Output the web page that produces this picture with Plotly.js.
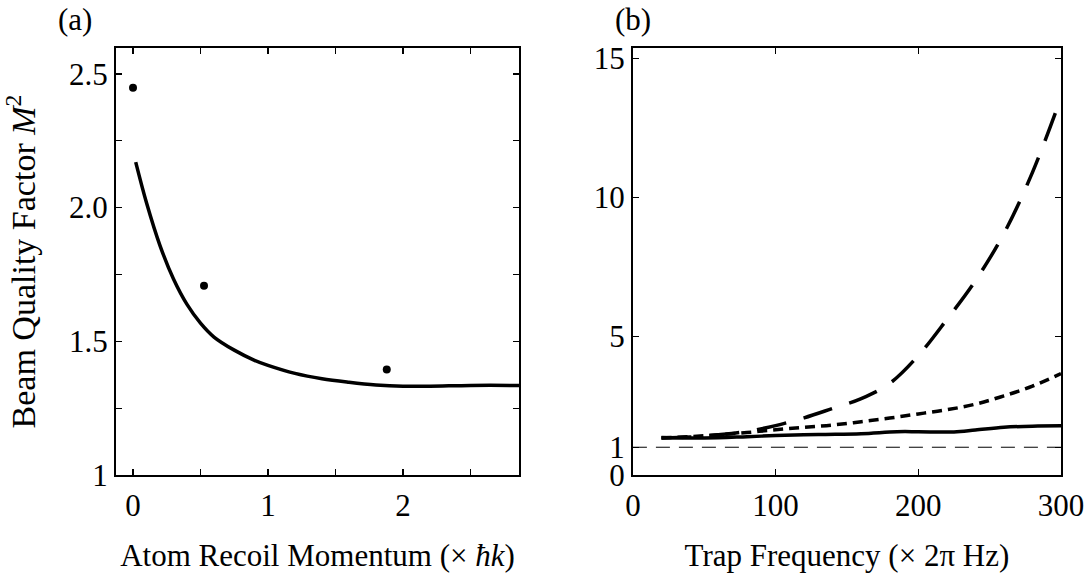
<!DOCTYPE html>
<html>
<head>
<meta charset="utf-8">
<script src="https://cdn.plot.ly/plotly-3.0.1.min.js"></script>
<style>html,body{margin:0;padding:0;background:#fff;}#chart{width:1085px;height:581px;}</style>
</head>
<body>
<div id="chart"></div>
<script>
// Panel (a): measured points
const momentumPts = [0, 0.526, 1.88];
const m2Pts = [2.448, 1.708, 1.395];
// Panel (a): theory curve
const momentumCurve = [0.02, 0.1, 0.2, 0.3, 0.4, 0.5, 0.6, 0.75, 0.9, 1.0, 1.2, 1.4, 1.6, 1.8, 2.0, 2.2, 2.5, 2.86];
const m2Curve = [2.17, 2.018, 1.858, 1.733, 1.638, 1.568, 1.516, 1.467, 1.429, 1.41, 1.38, 1.36, 1.347, 1.337, 1.332, 1.332, 1.335, 1.335];

// Panel (b): trap frequency curves
const freqLong = [20, 40, 60, 80, 100, 120, 140, 160, 180, 200, 220, 240, 260, 280, 300];
const m2Long = [1.33, 1.37, 1.45, 1.57, 1.78, 2.06, 2.4, 2.75, 3.3, 4.3, 5.6, 7.0, 8.7, 10.9, 13.6];
const freqShort = [20, 40, 60, 80, 100, 120, 140, 160, 180, 200, 220, 240, 260, 280, 300];
const m2Short = [1.33, 1.38, 1.45, 1.53, 1.63, 1.72, 1.8, 1.92, 2.05, 2.2, 2.35, 2.55, 2.85, 3.2, 3.65];
const freqSolid = [20, 50, 80, 100, 130, 160, 185, 200, 225, 240, 260, 280, 300];
const m2Solid = [1.35, 1.33, 1.38, 1.42, 1.46, 1.49, 1.56, 1.56, 1.55, 1.62, 1.72, 1.76, 1.77];
const refX = [0, 300];
const refY = [1, 1];

// Tick labels
const aTickVals = [0, 0.5, 1, 1.5, 2, 2.5];
const aTickText = ['0', '', '1', '', '2', ''];
const aYTickVals = [1, 1.25, 1.5, 1.75, 2.0, 2.25, 2.5];
const aYTickText = ['1', '', '1.5', '', '2.0', '', '2.5'];
const bTickVals = [0, 100, 200, 300];
const bTickText = ['0', '100', '200', '300'];
const bYTickVals = [0, 1, 5, 10, 15];
const bYTickText = ['0', '1', '5', '10', '15'];

const FONT = 'Liberation Serif, Times New Roman, serif';
const black = '#000';

const traces = [
  {x: momentumCurve, y: m2Curve, type: 'scatter', mode: 'lines', line: {color: black, width: 3.5, shape: 'spline', smoothing: 1}, xaxis: 'x', yaxis: 'y'},
  {x: momentumPts, y: m2Pts, type: 'scatter', mode: 'markers', marker: {color: black, size: 8}, xaxis: 'x', yaxis: 'y'},
  {x: refX, y: refY, type: 'scatter', mode: 'lines', line: {color: black, width: 1, dash: '14px,9px'}, xaxis: 'x2', yaxis: 'y2'},
  {x: freqSolid, y: m2Solid, type: 'scatter', mode: 'lines', line: {color: black, width: 3.5, shape: 'spline'}, xaxis: 'x2', yaxis: 'y2'},
  {x: freqShort, y: m2Short, type: 'scatter', mode: 'lines', line: {color: black, width: 3.5, dash: '10px,6px', shape: 'spline'}, xaxis: 'x2', yaxis: 'y2'},
  {x: freqLong, y: m2Long, type: 'scatter', mode: 'lines', line: {color: black, width: 3.5, dash: '30px,18px', shape: 'spline'}, xaxis: 'x2', yaxis: 'y2'}
];

const axisCommon = {
  showline: true, linecolor: black, linewidth: 2, mirror: 'allticks',
  ticks: 'inside', ticklen: 6, tickwidth: 1.2, tickcolor: black,
  showgrid: false, zeroline: false,
  tickfont: {family: FONT, size: 31, color: black},
  tickmode: 'array'
};

const layout = {
  width: 1085, height: 581,
  margin: {l: 116, r: 24, t: 48, b: 106},
  paper_bgcolor: '#fff', plot_bgcolor: '#fff',
  showlegend: false,
  font: {family: FONT, color: black},
  xaxis: Object.assign({}, axisCommon, {
    domain: [0, 0.4265], range: [-0.126, 2.86],
    tickvals: aTickVals, ticktext: aTickText, ticklabelstandoff: 2,
    title: {text: 'Atom Recoil Momentum (× <i>ħk</i>)', font: {family: FONT, size: 31, color: black}, standoff: 22}
  }),
  yaxis: Object.assign({}, axisCommon, {
    domain: [0, 1], range: [1, 2.597],
    tickvals: aYTickVals, ticktext: aYTickText,
    title: {text: 'Beam Quality Factor <i>M</i><sup>2</sup>', font: {family: FONT, size: 34, color: black}, standoff: 33}
  }),
  xaxis2: Object.assign({}, axisCommon, {
    domain: [0.547, 1], range: [0, 300], anchor: 'y2',
    tickvals: bTickVals, ticktext: bTickText, ticklabelstandoff: 2,
    title: {text: 'Trap Frequency (× 2π Hz)', font: {family: FONT, size: 31, color: black}, standoff: 22}
  }),
  yaxis2: Object.assign({}, axisCommon, {
    domain: [0, 1], range: [0, 15.38], anchor: 'x2',
    tickvals: bYTickVals, ticktext: bYTickText
  }),
  annotations: [
    {text: '(a)', xref: 'paper', yref: 'paper', x: -0.064, y: 1.0, yshift: 29, xanchor: 'left', yanchor: 'middle', showarrow: false, font: {family: FONT, size: 31, color: black}},
    {text: '(b)', xref: 'paper', yref: 'paper', x: 0.526, y: 1.0, yshift: 29, xanchor: 'left', yanchor: 'middle', showarrow: false, font: {family: FONT, size: 31, color: black}}
  ]
};

Plotly.newPlot('chart', traces, layout, {staticPlot: true, displayModeBar: false});
</script>
</body>
</html>
